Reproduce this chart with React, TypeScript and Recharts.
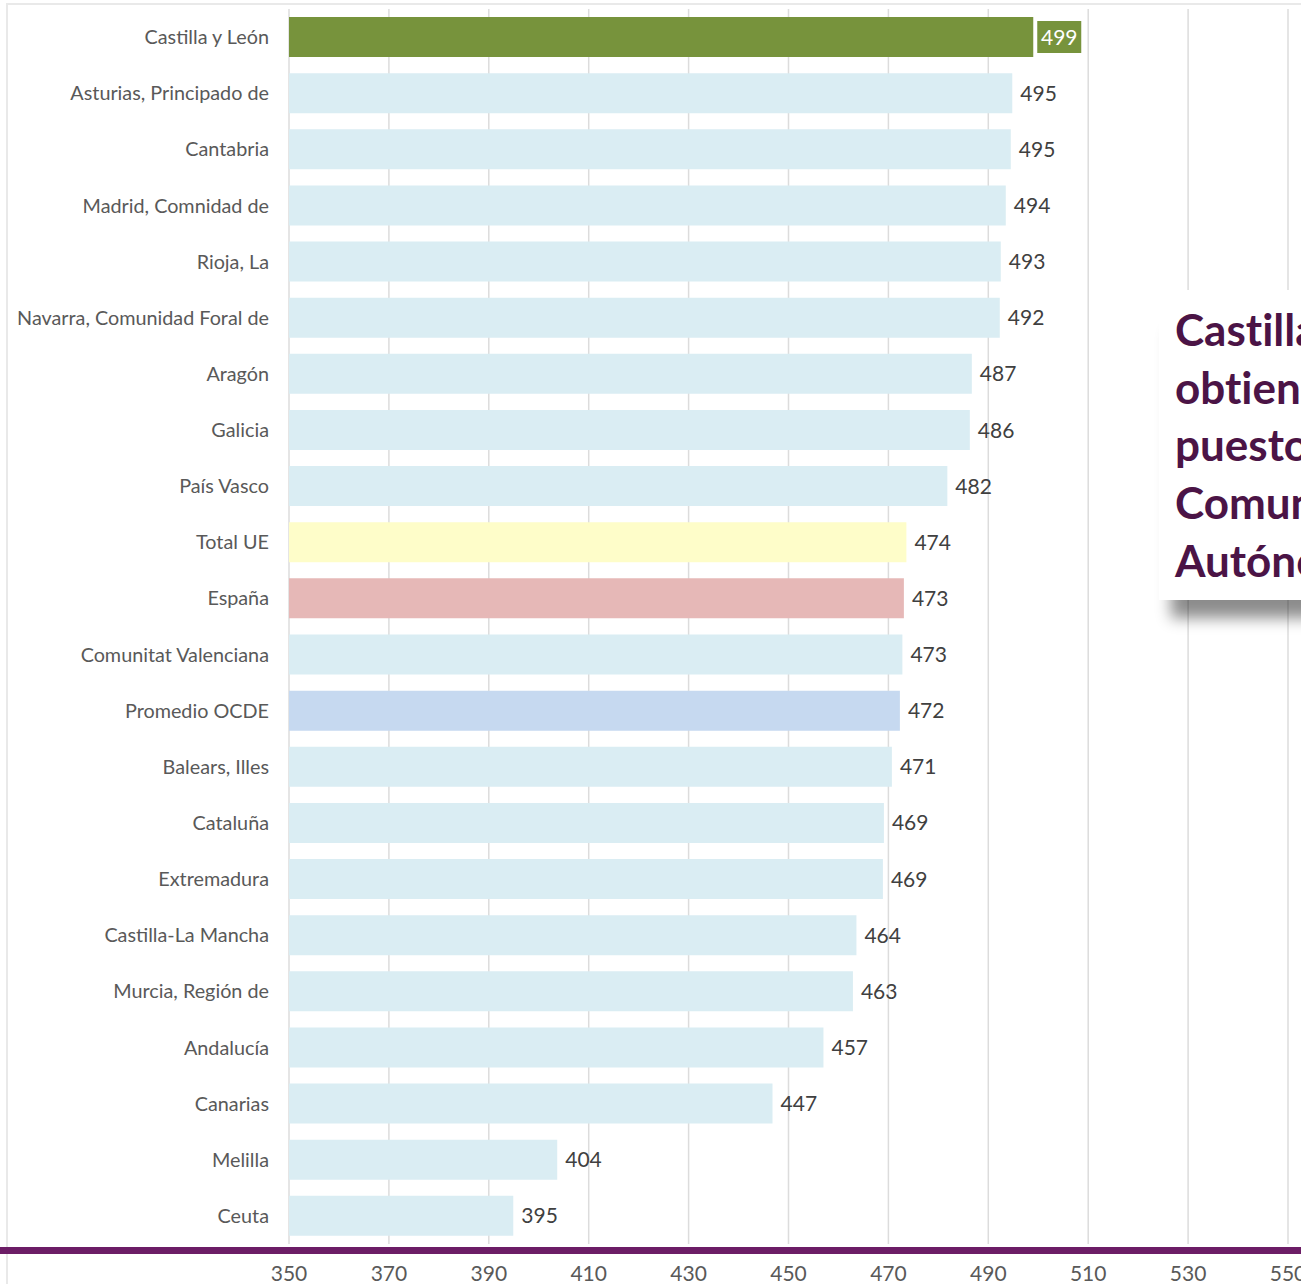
import React from 'react';
import { BarChart, Bar, XAxis, YAxis, CartesianGrid, Cell, LabelList } from 'recharts';

const regions = [
    'Castilla y León',
    'Asturias, Principado de',
    'Cantabria',
    'Madrid, Comnidad de',
    'Rioja, La',
    'Navarra, Comunidad Foral de',
    'Aragón',
    'Galicia',
    'País Vasco',
    'Total UE',
    'España',
    'Comunitat Valenciana',
    'Promedio OCDE',
    'Balears, Illes',
    'Cataluña',
    'Extremadura',
    'Castilla-La Mancha',
    'Murcia, Región de',
    'Andalucía',
    'Canarias',
    'Melilla',
    'Ceuta',
];

const scores = [
    499, 494.8, 494.5, 493.5, 492.5, 492.3, 486.7, 486.3, 481.8, 473.6, 473.1,
    472.8, 472.3, 470.7, 469.1, 468.9, 463.6, 462.9, 457.0, 446.8, 403.7, 394.9,
];

const xTicks = [350, 370, 390, 410, 430, 450, 470, 490, 510, 530, 550];

const calloutLines = ['Castilla y León', 'obtiene el primer', 'puesto entre las', 'Comunidades', 'Autónomas'];

const data = regions.map((region, i) => ({ region, score: scores[i] }));

const FONT = 'Lato, "Open Sans", sans-serif';
const BAR_FILL = '#daedf3';
const GREEN = '#77933c';
const specialFills: Record<string, string> = {
    'Castilla y León': GREEN,
    'Total UE': '#fefdc9',
    'España': '#e6b8b7',
    'Promedio OCDE': '#c6d9f0',
};

const ScoreLabel = (props: any) => {
    const { x, y, width, height, value, index } = props;
    const text = Math.round(Number(value));
    const endX = Number(x) + Number(width);
    const cy = Number(y) + Number(height) / 2;
    if (index === 0) {
        return (
            <g>
                <rect x={endX + 4} y={cy - 16} width={44} height={32} fill={GREEN} />
                <text x={endX + 26} y={cy} dy="0.36em" textAnchor="middle" fill="#ffffff" fontSize={21} fontFamily={FONT}>
                    {text}
                </text>
            </g>
        );
    }
    return (
        <text x={endX + 8} y={cy} dy="0.36em" fill="#404040" fontSize={21} fontFamily={FONT}>
            {text}
        </text>
    );
};

export default function App() {
    return (
        <div style={{ position: 'absolute', left: 0, top: 0, width: 1301, height: 1284, overflow: 'hidden', background: '#fff', fontFamily: FONT }}>
            {/* outer frame */}
            <div style={{ position: 'absolute', left: 6, top: 3, width: 1400, height: 1400, border: '2px solid #e9e9e9' }} />

            <div style={{ position: 'absolute', left: 0, top: 0 }}>
                <BarChart
                    width={1301}
                    height={1284}
                    layout="vertical"
                    data={data}
                    margin={{ top: 9, right: 13, bottom: 0, left: 0 }}
                    barSize={40}
                >
                    <CartesianGrid horizontal={false} stroke="#dcdcdc" strokeWidth={1.5} />
                    <XAxis
                        type="number"
                        domain={[350, 550]}
                        ticks={xTicks}
                        interval={0}
                        height={40}
                        axisLine={false}
                        tickLine={false}
                        tickSize={0}
                        tickMargin={22}
                        tick={{ fill: '#595959', fontSize: 21, fontFamily: FONT }}
                    />
                    <YAxis
                        type="category"
                        dataKey="region"
                        width={289}
                        axisLine={false}
                        tickLine={false}
                        tickSize={0}
                        tickMargin={20}
                        interval={0}
                        tick={{ fill: '#595959', fontSize: 19.8, fontFamily: FONT }}
                    />
                    <Bar dataKey="score" isAnimationActive={false}>
                        {data.map((d) => (
                            <Cell key={d.region} fill={specialFills[d.region] ?? BAR_FILL} />
                        ))}
                        <LabelList dataKey="score" content={ScoreLabel} />
                    </Bar>
                </BarChart>
            </div>

            {/* purple baseline */}
            <div style={{ position: 'absolute', left: 0, top: 1247, width: 1301, height: 7, background: '#6c1d66' }} />

            {/* callout box */}
            <div
                style={{
                    position: 'absolute',
                    left: 1159,
                    top: 290,
                    width: 300,
                    height: 310,
                    background: '#ffffff',
                    boxShadow: '0 30px 14px -12px rgba(0,0,0,0.45)',
                    paddingLeft: 16,
                    paddingTop: 11,
                    boxSizing: 'border-box',
                }}
            >
                {calloutLines.map((line) => (
                    <div
                        key={line}
                        style={{
                            fontSize: 44,
                            lineHeight: '57.7px',
                            fontWeight: 700,
                            color: '#4b1446',
                            whiteSpace: 'nowrap',
                            fontVariantLigatures: 'none',
                        }}
                    >
                        {line}
                    </div>
                ))}
            </div>
        </div>
    );
}
